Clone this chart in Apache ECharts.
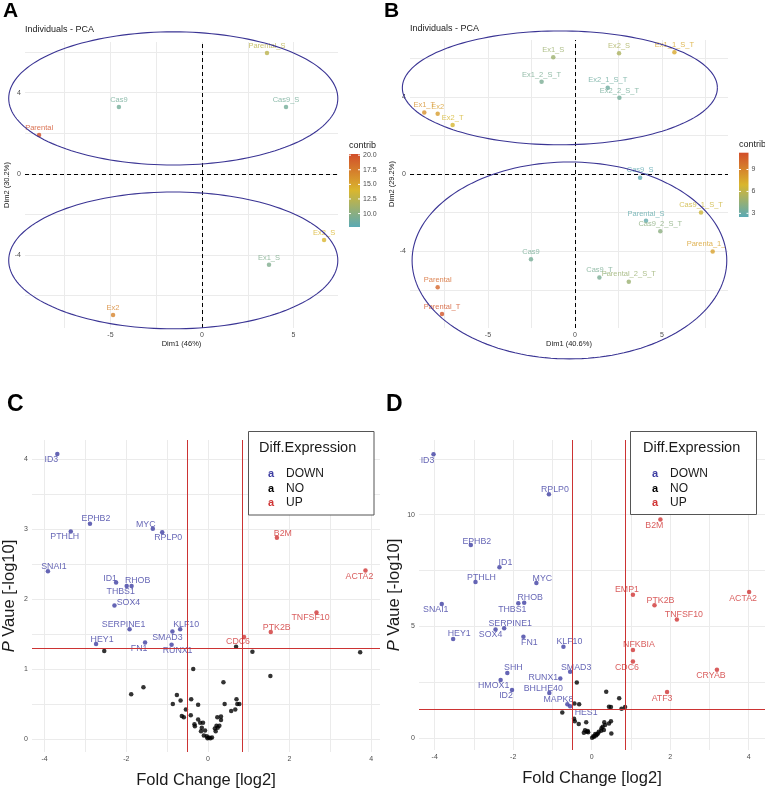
<!DOCTYPE html>
<html><head><meta charset="utf-8">
<script src="https://cdn.jsdelivr.net/npm/echarts@6/dist/echarts.min.js"></script>
<style>html,body{margin:0;padding:0;background:#fff}#c{width:765px;height:790px}</style>
</head><body><div id="c"></div>
<script>
// ---------- Panel A : PCA (7 individuals)
const aNames   = ['Parental_S','Cas9','Cas9_S','Parental','Ex2_S','Ex1_S','Ex2'];
const aDim1    = [3.55,-4.54,4.59,-8.9,6.67,3.66,-4.86];
const aDim2    = [5.96,3.3,3.3,1.92,-3.25,-4.48,-6.95];
const aContrib = [12.5,9,9,20,14,9.5,17];
const aEllCx = [-1.57,-1.57], aEllCy = [3.72,-4.26], aEllRx = [8.99,8.99], aEllRy = [3.28,3.37];
const aContribRange = [7.7,20.2];
const aContribTicks = [10,12.5,15,17.5,20];

// ---------- Panel B : PCA (19 individuals)
const bNames   = ['Ex1_S','Ex2_S','Ex1_1_S_T','Ex1_2_S_T','Ex2_1_S_T','Ex2_2_S_T','Ex1_T','Ex2','Ex2_T','Cas9_S','Cas9_1_S_T','Parental_S','Cas9_2_S_T','Parenta_1_S_T','Cas9','Cas9_T','Parental_2_S_T','Parental','Parental_T'];
const bDim1    = [-1.25,2.53,5.71,-1.92,1.88,2.55,-8.66,-7.89,-7.03,3.74,7.24,4.08,4.9,7.91,-2.53,1.4,3.09,-7.89,-7.64];
const bDim2    = [6.04,6.25,6.3,4.78,4.47,3.95,3.18,3.12,2.54,-0.19,-2.0,-2.43,-2.97,-4.02,-4.42,-5.37,-5.58,-5.87,-7.25];
const bContrib = [4.8,5.3,7.5,3.6,3.2,3.4,8.5,8.0,6.8,2.6,6.5,2.8,4.2,7.8,3.5,3.6,4.7,10.3,11.0];
const bEllCx = [-0.87,-0.32], bEllCy = [4.46,-4.48], bEllRx = [9.05,9.04], bEllRy = [2.95,5.10];
const bContribRange = [2.5,11.3];
const bContribTicks = [3,6,9];

// ---------- Panel C : volcano
const cGenes = ['ID3','EPHB2','PTHLH','MYC','RPLP0','SNAI1','ID1','RHOB','THBS1','SOX4','SERPINE1','KLF10','SMAD3','HEY1','FN1','RUNX1','B2M','ACTA2','TNFSF10','PTK2B','CDC6'];
const cFC    = [-3.69,-2.89,-3.36,-1.35,-1.12,-3.92,-2.25,-1.87,-1.99,-2.29,-1.92,-0.68,-0.87,-2.74,-1.54,-0.89,1.69,3.86,2.66,1.54,0.885];
const cP     = [4.08,3.08,2.97,3.01,2.96,2.40,2.24,2.19,2.19,1.91,1.57,1.57,1.54,1.36,1.38,1.35,2.88,2.41,1.81,1.53,1.46];
const cReg   = ['DOWN','DOWN','DOWN','DOWN','DOWN','DOWN','DOWN','DOWN','DOWN','DOWN','DOWN','DOWN','DOWN','DOWN','DOWN','DOWN','UP','UP','UP','UP','UP'];
const cNoFC  = [-2.54,0.69,1.09,3.73,-0.36,1.53,0.38,-1.58,-1.88,-0.76,-0.67,-0.41,0.70,-0.86,-0.24,0.41,0.72,0.77,-0.54,0.57,0.67,-0.42,-0.64,-0.59,-0.24,0.23,0.32,0.32,-0.33,-0.32,-0.19,-0.12,-0.15,0.21,0.28,0.17,0.24,0.19,-0.17,-0.07,-0.10,-0.03,0.02,0.06,0.10,-0.01];
const cNoP   = [1.26,1.32,1.25,1.24,1.00,0.90,0.81,0.74,0.64,0.63,0.55,0.57,0.57,0.50,0.49,0.50,0.50,0.50,0.42,0.40,0.42,0.34,0.33,0.31,0.28,0.31,0.32,0.27,0.21,0.18,0.23,0.23,0.16,0.19,0.19,0.15,0.16,0.11,0.11,0.12,0.05,0.04,0.02,0.01,0.02,0.01];

// ---------- Panel D : volcano
const dGenes = ['ID3','RPLP0','EPHB2','ID1','PTHLH','MYC','RHOB','THBS1','SNAI1','SERPINE1','SOX4','HEY1','FN1','KLF10','SHH','SMAD3','RUNX1','HMOX1','ID2','BHLHE40','MAPK8','HES1','B2M','EMP1','PTK2B','ACTA2','TNFSF10','NFKBIA','CDC6','CRYAB','ATF3'];
const dFC    = [-4.03,-1.09,-3.08,-2.35,-2.96,-1.41,-1.72,-1.87,-3.82,-2.23,-2.45,-3.53,-1.74,-0.72,-2.15,-0.55,-0.80,-2.32,-2.03,-1.08,-0.62,-0.55,1.75,1.05,1.60,4.01,2.17,1.05,1.05,3.19,1.92];
const dP     = [12.7,10.91,8.64,7.65,6.99,6.95,6.06,6.04,6.01,4.92,4.87,4.44,4.54,4.10,2.92,2.98,2.68,2.61,2.16,2.03,1.53,1.44,9.78,6.42,5.95,6.54,5.32,3.95,3.44,3.07,2.07];
const dReg   = ['DOWN','DOWN','DOWN','DOWN','DOWN','DOWN','DOWN','DOWN','DOWN','DOWN','DOWN','DOWN','DOWN','DOWN','DOWN','DOWN','DOWN','DOWN','DOWN','DOWN','DOWN','DOWN','UP','UP','UP','UP','UP','UP','UP','UP','UP'];
const dNoFC  = [-0.38,0.37,0.70,-0.44,-0.32,0.44,0.49,0.76,0.85,-0.75,-0.45,-0.43,-0.33,-0.14,0.49,0.44,0.32,0.34,0.25,0.24,0.31,0.50,-0.17,-0.13,-0.20,-0.09,0.09,0.16,0.04,0.01,0.11,-0.10,0.13,0.06,0.18,0.28];
const dNoP   = [2.50,2.08,1.79,1.56,1.53,1.41,1.40,1.32,1.40,1.16,0.88,0.76,0.64,0.72,0.77,0.67,0.72,0.60,0.45,0.34,0.37,0.22,0.36,0.30,0.25,0.27,0.19,0.22,0.10,0.03,0.13,0.33,0.17,0.07,0.30,0.52];

// thresholds
const fcThresh = [-0.5, 0.85];
const pThresh = 1.3;

// ---------- layout / style (kept separate from data)
const FONT = '"Liberation Sans", Arial, Helvetica, sans-serif';
const BLUE = '#3E3EA2', RED = '#D03535', BLACK = '#000000';
const LOW = '#5AA9B4', MID = '#D9B62E', HIGH = '#D24E2A';
const cLabelOff = {ID3:[-6,6],EPHB2:[6,-5],PTHLH:[-6,5],MYC:[-7,-4],RPLP0:[6,5],SNAI1:[6,-5],ID1:[-6,-4],RHOB:[6,-5],THBS1:[-6,6],SOX4:[14,-3],SERPINE1:[-6,-5],KLF10:[6,-5],SMAD3:[-5,6],HEY1:[6,-4],FN1:[-6,6],RUNX1:[6,6],B2M:[6,-4],ACTA2:[-6,6],TNFSF10:[-6,5],PTK2B:[6,-5],CDC6:[-6,5]};
const dLabelOff = {ID3:[-6,6],RPLP0:[6,-5],EPHB2:[6,-4],ID1:[6,-5],PTHLH:[6,-4],MYC:[6,-4],RHOB:[6,-5],THBS1:[-6,6],SNAI1:[-6,6],SERPINE1:[6,-5],SOX4:[-5,5],HEY1:[6,-5],FN1:[6,6],KLF10:[6,-5],SHH:[6,-5],SMAD3:[6,-4],RUNX1:[-17,-1],HMOX1:[-7,6],ID2:[-6,6],BHLHE40:[-6,-4],MAPK8:[-9,-5],HES1:[16,6],B2M:[-6,6],EMP1:[-6,-5],PTK2B:[6,-5],ACTA2:[-6,6],TNFSF10:[7,-5],NFKBIA:[6,-5],CDC6:[-6,6],CRYAB:[-6,6],ATF3:[-5,6]};

function hex2rgb(h){return [parseInt(h.slice(1,3),16),parseInt(h.slice(3,5),16),parseInt(h.slice(5,7),16)];}
function mix(a,b,t){const A=hex2rgb(a),B=hex2rgb(b);return 'rgb('+A.map((v,i)=>Math.round(v+(B[i]-v)*t)).join(',')+')';}
function gradColor(v,range){let t=(v-range[0])/(range[1]-range[0]);t=Math.max(0,Math.min(1,t));return t<0.5?mix(LOW,MID,t*2):mix(MID,HIGH,(t-0.5)*2);}

function axis(gi,min,max,gridVals,labelVals,extra){
  return Object.assign({
    type:'value',gridIndex:gi,min:min,max:max,
    axisLine:{show:false},
    axisTick:{show:false,customValues:gridVals},
    axisLabel:{customValues:labelVals,color:'#4D4D4D',fontSize:7,fontFamily:FONT,margin:4},
    splitLine:{show:true,lineStyle:{color:'#EBEBEB',width:1}},
    nameLocation:'middle',
    nameTextStyle:{color:'#1a1a1a',fontFamily:FONT,fontSize:7.5}
  },extra||{});
}

const series = [];
function ellipseRender(params,api){
  const cx=api.value(0),cy=api.value(1),rx=api.value(2),ry=api.value(3);
  const pts=[];
  for(let i=0;i<=160;i++){const t=i/160*2*Math.PI;pts.push(api.coord([cx+rx*Math.cos(t),cy+ry*Math.sin(t)]));}
  return {type:'polyline',shape:{points:pts},style:{stroke:'#3A3494',lineWidth:1.1,fill:null}};
}
function pcaSeries(idx,names,d1,d2,contrib,range,ecx,ecy,erx,ery){
  const data = names.map((n,i)=>{
    const col = gradColor(contrib[i],range);
    const item = {name:n,value:[d1[i],d2[i],contrib[i]],itemStyle:{color:col},label:{color:col}};
    if(n==='Parenta_1_S_T'){item.label={color:col,align:'left',offset:[-26,0],width:42,overflow:'truncate',ellipsis:''};}
    return item;
  });
  series.push({type:'scatter',xAxisIndex:idx,yAxisIndex:idx,symbolSize:4.5,data:data,z:5,
    label:{show:true,position:'top',distance:1,formatter:'{b}',fontSize:7.5,fontFamily:FONT},
    markLine:{silent:true,symbol:['none','none'],label:{show:false},
      lineStyle:{color:'#000',type:[4,3],width:1},data:[{xAxis:0},{yAxis:0}]}});
  series.push({type:'custom',xAxisIndex:idx,yAxisIndex:idx,clip:false,silent:true,z:6,
    renderItem:ellipseRender,encode:{x:0,y:1},
    data:ecx.map((c,k)=>[c,ecy[k],erx[k],ery[k]])});
}
pcaSeries(0,aNames,aDim1,aDim2,aContrib,aContribRange,aEllCx,aEllCy,aEllRx,aEllRy);
pcaSeries(1,bNames,bDim1,bDim2,bContrib,bContribRange,bEllCx,bEllCy,bEllRx,bEllRy);

function volcanoSeries(idx,genes,fc,p,reg,noFC,noP,off){
  const mk=(which,color)=>genes.map((g,i)=>reg[i]===which?{name:g,value:[fc[i],p[i]],
     label:{show:true,position:'inside',offset:off[g],color:color}}:null).filter(Boolean);
  series.push({name:'NO',type:'scatter',xAxisIndex:idx,yAxisIndex:idx,symbolSize:4.5,itemStyle:{color:BLACK},
    data:noFC.map((v,i)=>[v,noP[i]]),z:3,
    markLine:{silent:true,symbol:['none','none'],label:{show:false},
      lineStyle:{color:'#CC3333',type:'solid',width:1},
      data:[{xAxis:fcThresh[0]},{xAxis:fcThresh[1]},{yAxis:pThresh}]}});
  series.push({name:'DOWN',type:'scatter',xAxisIndex:idx,yAxisIndex:idx,symbolSize:4.5,itemStyle:{color:BLUE},z:4,
    label:{show:true,formatter:'{b}',fontSize:8.8,fontFamily:FONT},data:mk('DOWN',BLUE)});
  series.push({name:'UP',type:'scatter',xAxisIndex:idx,yAxisIndex:idx,symbolSize:4.5,itemStyle:{color:RED},z:4,
    label:{show:true,formatter:'{b}',fontSize:8.8,fontFamily:FONT},data:mk('UP',RED)});
}
volcanoSeries(2,cGenes,cFC,cP,cReg,cNoFC,cNoP,cLabelOff);
volcanoSeries(3,dGenes,dFC,dP,dReg,dNoFC,dNoP,dLabelOff);

// colorbars
function colorbar(x,top,bottom,w,range,ticks,fmt,titleX,titleY){
  const els=[];
  els.push({type:'text',left:titleX,top:titleY,style:{text:'contrib',fontSize:9,fontFamily:FONT,fill:'#1a1a1a'}});
  els.push({type:'rect',shape:{x:x,y:top,width:w,height:bottom-top},
    style:{fill:{type:'linear',x:0,y:0,x2:0,y2:1,colorStops:[{offset:0,color:HIGH},{offset:0.5,color:MID},{offset:1,color:LOW}]}}});
  ticks.forEach(v=>{
    const y = bottom-(v-range[0])/(range[1]-range[0])*(bottom-top);
    els.push({type:'line',shape:{x1:x,y1:y,x2:x+2,y2:y},style:{stroke:'#fff',lineWidth:1}});
    els.push({type:'line',shape:{x1:x+w-2,y1:y,x2:x+w,y2:y},style:{stroke:'#fff',lineWidth:1}});
    els.push({type:'text',x:x+w+3,y:y,style:{text:fmt(v),fontSize:7,fontFamily:FONT,fill:'#4D4D4D',verticalAlign:'middle'}});
  });
  return els;
}

const legendRich = {
  DOWN:{color:BLUE,fontWeight:'bold',fontSize:11,width:18,fontFamily:FONT},
  NO:{color:BLACK,fontWeight:'bold',fontSize:11,width:18,fontFamily:FONT},
  UP:{color:RED,fontWeight:'bold',fontSize:11,width:18,fontFamily:FONT}
};
function legendCfg(left){
  return {left:left,top:462,orient:'vertical',data:['DOWN','NO','UP'],selectedMode:false,z:100,
    icon:'circle',itemWidth:1,itemHeight:1,itemGap:0.5,itemStyle:{opacity:0},
    formatter:n=>'{'+n+'|a}'+n,
    textStyle:{fontSize:12,fontFamily:FONT,color:'#1a1a1a',lineHeight:14,rich:legendRich}};
}

const graphic = [
  {type:'text',x:3,y:11,style:{text:'A',fontSize:21,fontWeight:'bold',fontFamily:FONT,fill:'#000',verticalAlign:'middle'}},
  {type:'text',x:384,y:11.5,style:{text:'B',fontSize:21,fontWeight:'bold',fontFamily:FONT,fill:'#000',verticalAlign:'middle'}},
  {type:'text',x:7,y:405,style:{text:'C',fontSize:23,fontWeight:'bold',fontFamily:FONT,fill:'#000',verticalAlign:'middle'}},
  {type:'text',x:386,y:405,style:{text:'D',fontSize:23,fontWeight:'bold',fontFamily:FONT,fill:'#000',verticalAlign:'middle'}},
  {type:'text',x:25,y:30,style:{text:'Individuals - PCA',fontSize:9,fontFamily:FONT,fill:'#1a1a1a',verticalAlign:'middle'}},
  {type:'text',x:410,y:28.5,style:{text:'Individuals - PCA',fontSize:9,fontFamily:FONT,fill:'#1a1a1a',verticalAlign:'middle'}},
  ...colorbar(349,154,227,11,aContribRange,aContribTicks,v=>v.toFixed(1),349,141),
  ...colorbar(739,152.7,217,9.5,bContribRange,bContribTicks,v=>String(v),739,140),
  {type:'rect',z:50,shape:{x:248.5,y:431.5,width:125.5,height:83.5},style:{fill:'#fff',stroke:'#555',lineWidth:1}},
  {type:'text',z:51,x:259,y:448,style:{text:'Diff.Expression',fontSize:14.5,fontFamily:FONT,fill:'#1a1a1a',verticalAlign:'middle'}},
  {type:'rect',z:50,shape:{x:630.5,y:431.5,width:126,height:83},style:{fill:'#fff',stroke:'#555',lineWidth:1}},
  {type:'text',z:51,x:643,y:448,style:{text:'Diff.Expression',fontSize:14.5,fontFamily:FONT,fill:'#1a1a1a',verticalAlign:'middle'}}
];

const volcNameStyle = {color:'#1a1a1a',fontFamily:FONT,fontSize:16.5,rich:{i:{fontStyle:'italic',fontSize:16.5,fontFamily:FONT,color:'#1a1a1a'}}};

const option = {
  animation:false,
  backgroundColor:'#fff',
  textStyle:{fontFamily:FONT},
  grid:[
    {left:25,top:42,width:313,height:286},
    {left:410,top:40,width:318,height:288},
    {left:30,top:440,width:350,height:312},
    {left:419,top:440,width:346,height:310}
  ],
  xAxis:[
    axis(0,-9.67,7.43,[-7.5,-5,-2.5,0,2.5,5],[-5,0,5],{name:'Dim1 (46%)',nameGap:12}),
    axis(1,-9.48,8.79,[-7.5,-5,-2.5,0,2.5,5,7.5],[-5,0,5],{name:'Dim1 (40.6%)',nameGap:12}),
    axis(2,-4.31,4.216,[-4,-3,-2,-1,0,1,2,3,4],[-4,-2,0,2,4],{name:'Fold Change [log2]',nameGap:20,nameTextStyle:volcNameStyle}),
    axis(3,-4.4,4.415,[-4,-3,-2,-1,0,1,2,3,4],[-4,-2,0,2,4],{name:'Fold Change [log2]',nameGap:20,nameTextStyle:volcNameStyle})
  ],
  yAxis:[
    axis(0,-7.59,6.5,[-6,-4,-2,0,2,4,6],[-4,0,4],{name:'Dim2 (30.2%)',nameGap:10}),
    axis(1,-7.98,6.94,[-6,-4,-2,0,2,4,6],[-4,0,4],{name:'Dim2 (29.2%)',nameGap:10}),
    axis(2,-0.187,4.28,[0,0.5,1,1.5,2,2.5,3,3.5,4],[0,1,2,3,4],{name:'{i|P} Vaue [-log10]',nameGap:14,nameTextStyle:volcNameStyle}),
    axis(3,-0.52,13.34,[0,2.5,5,7.5,10,12.5],[0,5,10],{name:'{i|P} Vaue [-log10]',nameGap:14,nameTextStyle:volcNameStyle})
  ],
  legend:[legendCfg(257),legendCfg(641)],
  graphic:graphic,
  series:series
};
const chart = echarts.init(document.getElementById('c'),null,{renderer:'canvas'});
chart.setOption(option);
</script></body></html>
